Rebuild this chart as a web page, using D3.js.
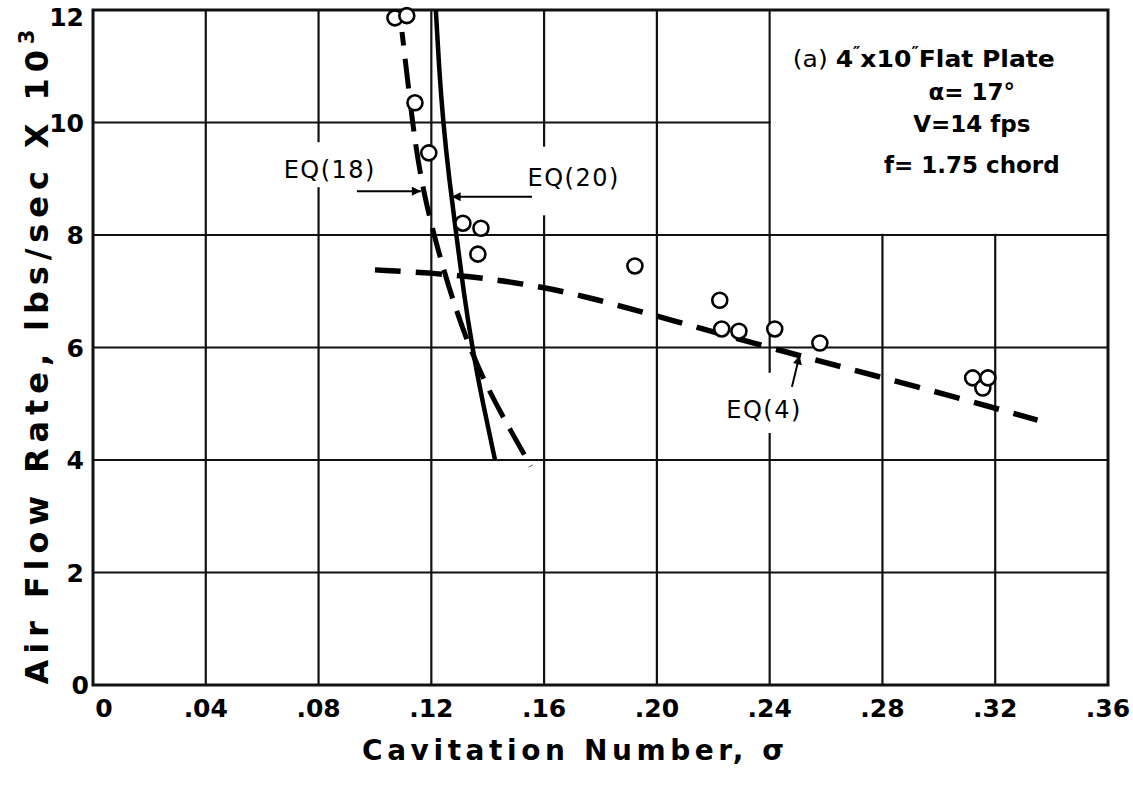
<!DOCTYPE html>
<html><head><meta charset="utf-8">
<script src="https://cdn.jsdelivr.net/npm/d3@7"></script>
<style>html,body{margin:0;padding:0;background:#fff;}svg{display:block;}</style>
</head><body>
<script>
// ---- data ----
const xTicks = [0, 0.04, 0.08, 0.12, 0.16, 0.20, 0.24, 0.28, 0.32, 0.36];
const xTickLabels = ["0", ".04", ".08", ".12", ".16", ".20", ".24", ".28", ".32", ".36"];
const yTicks = [0, 2, 4, 6, 8, 10, 12];
const yTickLabels = ["0", "2", "4", "6", "8", "10", "12"];

const obsSigma = [0.1071, 0.1113, 0.1142, 0.1191, 0.1312, 0.1376, 0.1365, 0.1922, 0.2223, 0.2230, 0.2291, 0.2418, 0.2578, 0.3120, 0.3156, 0.3174];
const obsRate  = [11.86, 11.90, 10.35, 9.46, 8.21, 8.12, 7.66, 7.45, 6.84, 6.33, 6.29, 6.33, 6.08, 5.46, 5.28, 5.46];

const eq20Sigma = [0.1216, 0.1227, 0.1242, 0.1263, 0.1289, 0.1314, 0.1345, 0.1383, 0.1426];
const eq20Rate  = [12, 11, 10, 9, 8, 7, 6, 5, 4];

const eq18Sigma = [0.1096, 0.1117, 0.1142, 0.1171, 0.1207, 0.1259, 0.1320, 0.1396, 0.1486, 0.1553];
const eq18Rate  = [11.61, 10.70, 9.64, 8.80, 8.04, 7.11, 6.19, 5.30, 4.48, 3.89];

const eq4Sigma = [0.100, 0.122, 0.141, 0.159, 0.177, 0.205, 0.239, 0.266, 0.303, 0.335];
const eq4Rate  = [7.38, 7.32, 7.22, 7.08, 6.88, 6.49, 6.01, 5.65, 5.16, 4.71];

// label / arrow anchors in data units
const eqLabels = [
  {text: "EQ(18)", x: 0.0840, y: 9.02, ax1: 0.0936, ay1: 8.78, ax2: 0.1163, ay2: 8.78, gap: [0.0800, 9.65, 8.85]},
  {text: "EQ(20)", x: 0.1705, y: 8.88, ax1: 0.1557, ay1: 8.68, ax2: 0.1272, ay2: 8.68, gap: [0.1600, 9.57, 8.35]},
  {text: "EQ(4)",  x: 0.2380, y: 4.75, ax1: 0.2479, ay1: 5.30, ax2: 0.2506, ay2: 5.86, gap: [0.2400, 5.55, 4.48]}
];
const noteLines = ["α= 17°", "V=14 fps", "f= 1.75 chord"];

// ---- layout ----
const W = 1133, H = 798;
const m = {left: 93, right: 1108, top: 10, bottom: 685};
const x = d3.scaleLinear().domain([0, 0.36]).range([m.left, m.right]);
const y = d3.scaleLinear().domain([0, 12]).range([m.bottom, m.top]);
const FONT = "'DejaVu Sans', 'Liberation Sans', sans-serif";

const svg = d3.select("body").append("svg").attr("width", W).attr("height", H);
svg.append("rect").attr("width", W).attr("height", H).attr("fill", "#fff");

// grid
const grid = svg.append("g").attr("stroke", "#111").attr("stroke-width", 2.2);
grid.selectAll(".vx").data(xTicks.slice(1, -1)).join("line")
  .attr("x1", d => x(d)).attr("x2", d => x(d)).attr("y1", y(0)).attr("y2", y(12));
grid.selectAll(".hy").data(yTicks.slice(1, -1)).join("line")
  .attr("y1", d => y(d)).attr("y2", d => y(d)).attr("x1", x(0)).attr("x2", x(0.36));

// white note box (clears grid in upper right)
svg.append("rect")
  .attr("x", x(0.24) + 1.2).attr("y", y(12))
  .attr("width", x(0.36) - x(0.24) - 1.2).attr("height", y(8) - y(12) - 1.2)
  .attr("fill", "#fff");

// gaps in grid lines around labels
eqLabels.forEach(l => {
  svg.append("rect")
    .attr("x", x(l.gap[0]) - 3).attr("width", 6)
    .attr("y", y(l.gap[1])).attr("height", y(l.gap[2]) - y(l.gap[1]))
    .attr("fill", "#fff");
});

// frame
svg.append("rect").attr("x", x(0)).attr("y", y(12))
  .attr("width", x(0.36) - x(0)).attr("height", y(0) - y(12))
  .attr("fill", "none").attr("stroke", "#111").attr("stroke-width", 3);

// curves
const toPts = (xs, ys) => xs.map((v, i) => [v, ys[i]]);
const line = d3.line().x(d => x(d[0])).y(d => y(d[1])).curve(d3.curveBasis);

svg.append("path").attr("d", line(toPts(eq20Sigma, eq20Rate)))
  .attr("fill", "none").attr("stroke", "#000").attr("stroke-width", 4.5);
svg.append("path").attr("d", line(toPts(eq18Sigma, eq18Rate)))
  .attr("fill", "none").attr("stroke", "#000").attr("stroke-width", 5)
  .attr("stroke-dasharray", "30 13").attr("stroke-dashoffset", 16);
svg.append("path").attr("d", line(toPts(eq4Sigma, eq4Rate)))
  .attr("fill", "none").attr("stroke", "#000").attr("stroke-width", 5.5)
  .attr("stroke-dasharray", "26 15");

// observations
svg.append("g").selectAll("circle").data(toPts(obsSigma, obsRate)).join("circle")
  .attr("cx", d => x(d[0])).attr("cy", d => y(d[1])).attr("r", 7.5)
  .attr("fill", "#fff").attr("stroke", "#000").attr("stroke-width", 2.6);

// arrows + EQ labels
svg.append("defs").append("marker").attr("id", "ah")
  .attr("viewBox", "0 0 10 10").attr("refX", 10).attr("refY", 5)
  .attr("markerWidth", 14).attr("markerHeight", 9).attr("markerUnits", "userSpaceOnUse")
  .attr("orient", "auto")
  .append("path").attr("d", "M0,0 L10,5 L0,10 Z").attr("fill", "#000");
eqLabels.forEach(l => {
  svg.append("line").attr("x1", x(l.ax1)).attr("y1", y(l.ay1))
    .attr("x2", x(l.ax2)).attr("y2", y(l.ay2))
    .attr("stroke", "#000").attr("stroke-width", 2).attr("marker-end", "url(#ah)");
  svg.append("text").attr("x", x(l.x)).attr("y", y(l.y))
    .attr("text-anchor", "middle").attr("font-family", FONT).attr("font-size", 24)
    .attr("letter-spacing", 1.5).attr("fill", "#000").text(l.text);
});

// note text
const note = svg.append("g").attr("font-family", FONT).attr("font-weight", "bold").attr("fill", "#000");
const t1 = note.append("text").attr("x", x(0.2482)).attr("y", y(10.99)).attr("font-size", 23)
  .attr("textLength", 262).attr("lengthAdjust", "spacingAndGlyphs");
t1.append("tspan").attr("font-weight", "normal").text("(a) ");
t1.append("tspan").text("4");
t1.append("tspan").attr("font-size", 15).attr("dy", -9).text("\u2033");
t1.append("tspan").attr("dy", 9).text("x10");
t1.append("tspan").attr("font-size", 15).attr("dy", -9).text("\u2033");
t1.append("tspan").attr("dy", 9).text("Flat Plate");
const noteY = [10.40, 9.83, 9.10];
note.selectAll(".nl").data(noteLines).join("text")
  .attr("x", x(0.3117)).attr("y", (d, i) => y(noteY[i]))
  .attr("text-anchor", "middle").attr("font-size", 23).text(d => d);

// tick labels
const tl = svg.append("g").attr("font-family", FONT).attr("font-weight", "bold").attr("font-size", 25).attr("fill", "#000");
tl.selectAll(".xt").data(xTicks).join("text")
  .attr("x", (d, i) => x(d) + (i === 0 ? 11 : 0)).attr("y", 717)
  .attr("text-anchor", "middle").text((d, i) => xTickLabels[i]);
tl.selectAll(".yt").data(yTicks).join("text")
  .attr("x", (d, i) => i === 0 ? 89 : 84).attr("y", d => y(d) + (d === 12 ? 16 : 9))
  .attr("text-anchor", "end").text((d, i) => yTickLabels[i]);

// axis titles
svg.append("text").attr("x", 573).attr("y", 760).attr("text-anchor", "middle")
  .attr("font-family", FONT).attr("font-weight", "bold").attr("font-size", 28)
  .attr("textLength", 422).attr("lengthAdjust", "spacing").text("Cavitation Number, σ");
const yt = svg.append("text").attr("transform", "translate(48,357) rotate(-90)")
  .attr("text-anchor", "middle").attr("font-family", FONT).attr("font-weight", "bold")
  .attr("font-size", 32).attr("textLength", 655).attr("lengthAdjust", "spacing");
yt.append("tspan").text("Air Flow Rate, lbs/sec X 10");
yt.append("tspan").attr("font-size", 21).attr("dy", -14).text("3");
</script>
</body></html>
